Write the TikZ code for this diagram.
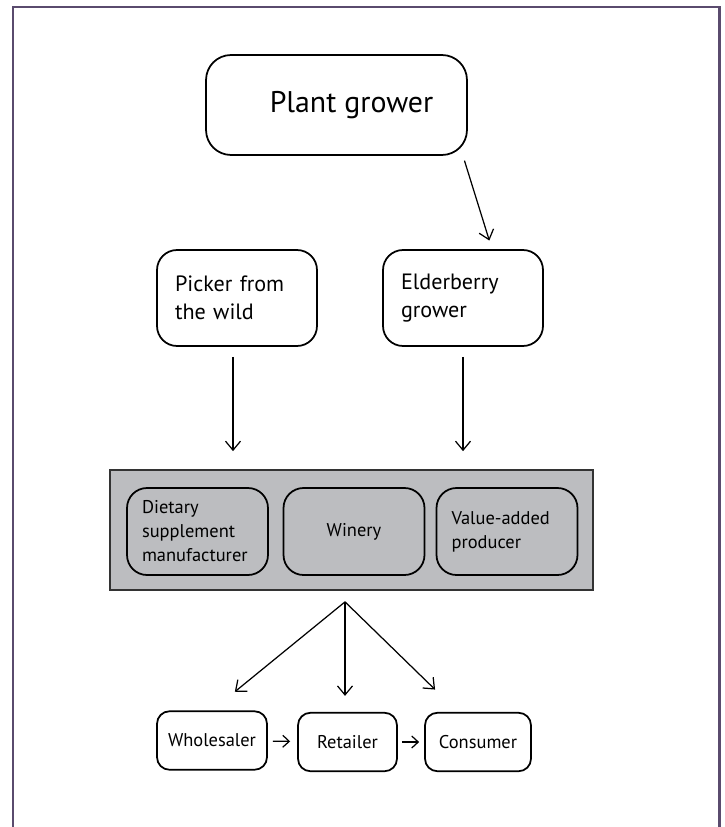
\documentclass[tikz,border=0pt]{standalone}
\usepackage{fontspec}
\setmainfont{PT Sans}
\usetikzlibrary{arrows.meta}
\definecolor{framepurple}{RGB}{90,75,110}
\definecolor{boxgrey}{RGB}{188,189,192}

\begin{document}
\begin{tikzpicture}[x=0.02cm,y=-0.02cm,
	card/.style={draw,line width=1pt,rounded corners=0.4cm,align=left,inner xsep=0.36cm,inner ysep=0pt},
	firm/.style={card,inner xsep=0.3cm,text width=2.22cm,minimum height=1.74cm,font=\fontsize{10.5}{13.7}\selectfont},
	tag/.style={draw,line width=1pt,rounded corners=0.25cm,align=center,inner sep=0pt,minimum height=1.17cm,font=\fontsize{10.5}{13}\selectfont},
	link/.style={line width=0.7pt,-{Straight Barb[length=0.18cm,width=0.3cm]}},
	small link/.style={line width=0.7pt,-{Straight Barb[length=0.13cm,width=0.24cm]}}]
	\useasboundingbox (0,0) rectangle (724,827);
	\draw[framepurple,line width=1.7pt] (13,830)--(13,7)--(719,7)--(719,830);
	\node[card,rounded corners=0.5cm,align=center,minimum width=5.22cm,minimum height=2cm,font=\fontsize{17}{20}\selectfont] (plant) at (336.5,105) {\hspace*{0.6cm}Plant grower};
	\node[card,text width=2.48cm,minimum height=1.92cm,font=\fontsize{12.6}{16}\selectfont] (picker) at (237,298) {Picker from\\the wild};
	\node[card,text width=2.48cm,minimum height=1.92cm,font=\fontsize{12.6}{16}\selectfont] (elder) at (463,298) {Elderberry\\grower};
	\node[draw=black!80,line width=1pt,fill=boxgrey,minimum width=9.66cm,minimum height=2.4cm,inner sep=0pt] (group) at (351.5,530) {};
	\node[firm] (diet) at (197.5,531.5) {Dietary\\supplement\\manufacturer};
	\node[firm,align=center] (winery) at (354,531.5) {Winery};
	\node[firm] (value) at (507,531.5) {Value-added\\producer};
	\node[tag,minimum width=2.2cm] (whole) at (212,740.5) {Wholesaler};
	\node[tag,minimum width=1.98cm] (retail) at (347.5,742) {Retailer};
	\node[tag,minimum width=2.12cm] (cons) at (478,742) {Consumer};
	\coordinate (hub) at ([xshift=-0.13cm,yshift=-0.22cm]group.south);
	\draw[link,shorten <=0.1cm,shorten >=0.18cm] ([xshift=2.53cm]plant.south) -- ([xshift=0.58cm]elder.north);
	\draw[link,shorten <=0.2cm,shorten >=0.36cm] ([xshift=-0.08cm]picker.south) -- ([xshift=-0.08cm]picker.south |- group.north);
	\draw[link,shorten <=0.2cm,shorten >=0.36cm] (elder.south) -- (elder.south |- group.north);
	\draw[link,shorten >=0.59cm] (hub) -- (whole.north);
	\draw[link,shorten >=0.32cm] (hub) -- (hub |- retail.north);
	\draw[link,shorten >=0.64cm] (hub) -- ([xshift=-0.4cm]cons.north);
	\draw[small link,shorten <=0.1cm,shorten >=0.14cm] (whole) -- (retail);
	\draw[small link,shorten <=0.08cm,shorten >=0.1cm] (retail) -- (cons);
\end{tikzpicture}
\end{document}
